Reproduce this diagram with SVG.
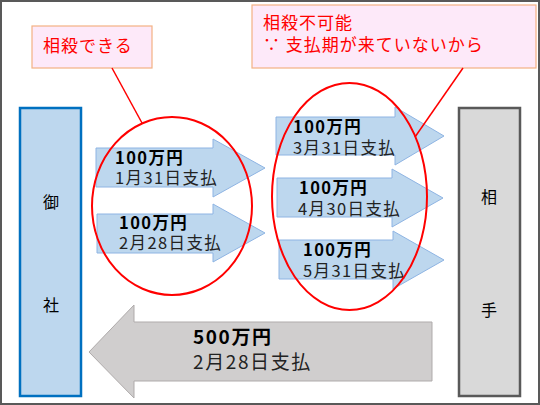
<svg xmlns="http://www.w3.org/2000/svg" width="540" height="405" viewBox="0 0 540 405">
<style>
text{font-family:"Noto Sans CJK JP","Noto Sans CJK SC",sans-serif;}
.note{fill:#fde9f9;stroke:#f4b183;stroke-width:1.2;}
.nt{fill:#ff0000;font-size:17px;letter-spacing:1px;}
.blue{fill:#bdd7ee;stroke:#8eb4e3;stroke-width:1;}
.gray{fill:#d0cece;stroke:#afabab;stroke-width:1;}
.pay{font-size:16.5px;fill:#222;letter-spacing:1.4px;}
.amt{font-weight:bold;fill:#000;}
.big{font-size:19px;letter-spacing:1.6px;}
.oval{fill:none;stroke:#ff0000;stroke-width:2;}
.call{stroke:#ff0000;stroke-width:1.5;fill:none;}
.lbl{font-size:16px;fill:#000;text-anchor:middle;}
</style>
<rect x="1" y="1" width="538" height="403" fill="#ffffff" stroke="#595959" stroke-width="2"/>

<g id="gosha">
<rect x="20" y="108" width="61" height="288" fill="#bdd7ee" stroke="#0070c0" stroke-width="2.5"/>
<text class="lbl" x="51" y="208">御</text>
<text class="lbl" x="51" y="311">社</text>
</g>
<g id="aite">
<rect x="459" y="108" width="61" height="288" fill="#d9d9d9" stroke="#595959" stroke-width="2.5"/>
<text class="lbl" x="489" y="203">相</text>
<text class="lbl" x="489" y="316">手</text>
</g>

<g id="arrow1">
<polygon class="blue" points="96,148 213,148 213,139 265,168 213,197 213,187 96,187"/>
<text class="pay" x="115" y="164"><tspan class="amt">100万円</tspan><tspan x="115" y="184">1月31日支払</tspan></text>
</g>
<g id="arrow2">
<polygon class="blue" points="97,214 213,214 213,204 265,233 213,262 213,253 97,253"/>
<text class="pay" x="119" y="229"><tspan class="amt">100万円</tspan><tspan x="119" y="249">2月28日支払</tspan></text>
</g>
<g id="arrow3">
<polygon class="blue" points="276,117 395,117 395,107 444,136 395,165 395,155 276,155"/>
<text class="pay" x="293" y="133"><tspan class="amt">100万円</tspan><tspan x="293" y="154">3月31日支払</tspan></text>
</g>
<g id="arrow4">
<polygon class="blue" points="277,178 392,178 392,169 443,198 392,227 392,217 277,217"/>
<text class="pay" x="299" y="194"><tspan class="amt">100万円</tspan><tspan x="298" y="215">4月30日支払</tspan></text>
</g>
<g id="arrow5">
<polygon class="blue" points="279,240 393,240 393,231 444,260 393,289 393,279 279,279"/>
<text class="pay" x="303" y="256"><tspan class="amt">100万円</tspan><tspan x="303" y="277">5月31日支払</tspan></text>
</g>
<g id="arrow-big">
<polygon class="gray" points="432,322 134,322 134,305 89,352 134,398 134,381 432,381"/>
<text class="pay big" x="193" y="344"><tspan class="amt">500万円</tspan><tspan x="193" y="369">2月28日支払</tspan></text>
</g>

<g id="note1">
<rect class="note" x="32" y="26" width="120" height="42"/>
<text class="nt" x="43" y="52">相殺できる</text>
</g>
<g id="note2">
<rect class="note" x="252" y="5" width="284" height="63"/>
<text class="nt" x="263" y="29">相殺不可能<tspan x="263" y="51">∵ 支払期が来ていないから</tspan></text>
</g>

<g id="connectors">
<ellipse class="oval" cx="172" cy="206" rx="80" ry="89"/>
<ellipse class="oval" cx="349.5" cy="196.5" rx="77.5" ry="113.5"/>
<line class="call" x1="112" y1="68" x2="142" y2="123"/>
<line class="call" x1="463" y1="68" x2="415" y2="137"/>
</g>
</svg>
